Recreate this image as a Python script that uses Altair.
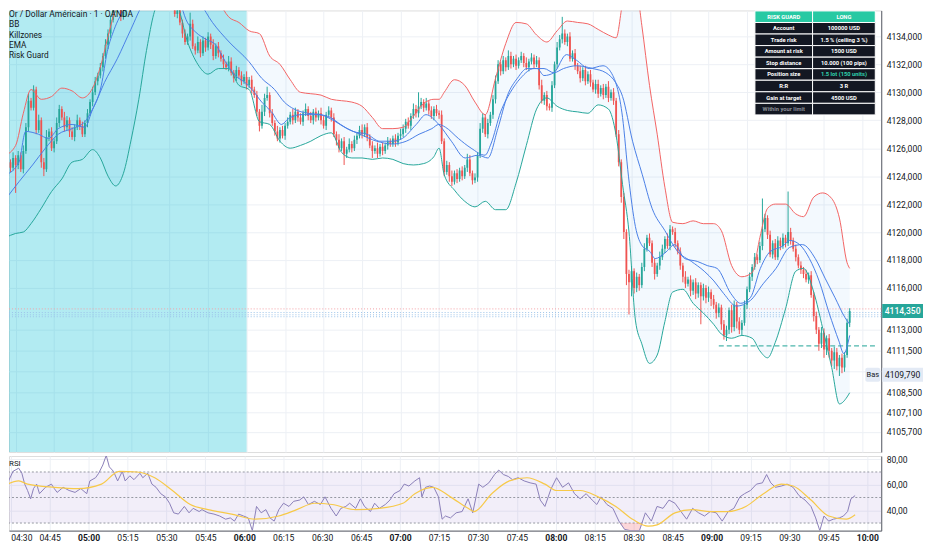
import altair as alt
import pandas as pd

# ---------------- data ----------------
START_MIN = 267            # first candle = 04:27 (minutes after midnight)
FIRST_OPEN = 4125.3

closes = [
    4125.0, 4124.6, 4125.3, 4124.8, 4125.5, 4124.5, 4125.8, 4127.5, 4129.4, 4128.9,
    4130.2, 4127.3, 4128.0, 4125.0, 4124.5, 4126.8, 4127.2, 4126.0, 4126.5, 4127.8,
    4128.8, 4128.2, 4127.5, 4128.0, 4127.2, 4126.8, 4127.5, 4128.0, 4127.6, 4127.0,
    4127.8, 4128.5, 4129.3, 4130.0, 4130.8, 4131.2, 4131.8, 4132.6, 4133.4, 4134.2,
    4135.2, 4136.0, 4136.8, 4137.2, 4135.4, 4135.8, 4136.8, 4137.8, 4138.5, 4139.2,
    4139.8, 4140.3, 4140.0, 4140.6, 4140.2, 4139.8, 4140.4, 4139.9, 4139.5, 4139.0,
    4138.6, 4138.2, 4137.7, 4137.2, 4136.6, 4135.6, 4135.9, 4135.0, 4134.2, 4133.6,
    4134.0, 4134.9, 4133.3, 4133.0, 4133.6, 4132.8, 4133.7, 4133.2, 4134.0, 4133.4,
    4132.6, 4133.3, 4132.8, 4132.4, 4132.0, 4131.8, 4132.2, 4131.4, 4131.0, 4131.6,
    4131.2, 4130.8, 4131.1, 4130.5, 4130.9, 4130.2, 4129.8, 4128.6, 4127.6, 4128.6,
    4129.6, 4129.8, 4128.5, 4127.8, 4127.2, 4126.7, 4127.3, 4126.9, 4127.6, 4127.9,
    4128.4, 4128.0, 4128.6, 4128.2, 4127.9, 4128.5, 4128.8, 4128.3, 4128.0, 4128.6,
    4128.2, 4128.5, 4128.0, 4127.6, 4128.4, 4128.7, 4128.2, 4127.0, 4126.6, 4126.0,
    4126.5, 4125.6, 4125.9, 4126.3, 4126.0, 4126.6, 4126.9, 4127.3, 4127.0, 4127.5,
    4126.8, 4126.2, 4125.8, 4126.0, 4125.6, 4126.1, 4125.8, 4126.2, 4126.5, 4126.3,
    4126.7, 4126.4, 4126.9, 4127.0, 4127.4, 4127.9, 4127.6, 4128.3, 4128.8, 4128.5,
    4129.0, 4129.3, 4128.9, 4129.2, 4128.7, 4128.3, 4128.8, 4128.5, 4128.4, 4126.5,
    4124.3, 4124.8, 4124.0, 4123.6, 4124.2, 4123.8, 4124.4, 4124.0, 4124.6, 4125.2,
    4124.2, 4123.7, 4123.9, 4125.5, 4127.4, 4128.2, 4127.0, 4127.8, 4128.4, 4129.5,
    4130.8, 4132.0, 4131.5, 4132.3, 4131.8, 4132.6, 4132.0, 4132.4, 4131.9, 4132.3,
    4132.6, 4132.1, 4131.8, 4132.2, 4132.5, 4132.0, 4132.3, 4130.5, 4129.4, 4129.8,
    4129.0, 4128.9, 4130.5, 4132.0, 4133.2, 4133.8, 4134.2, 4133.6, 4134.0, 4132.4,
    4132.8, 4131.9, 4131.5, 4131.0, 4131.6, 4130.8, 4131.3, 4130.7, 4130.2, 4130.6,
    4129.9, 4130.3, 4129.8, 4130.4, 4129.6, 4130.0, 4129.4, 4127.0, 4125.0, 4122.5,
    4120.0, 4117.0, 4116.4, 4117.2, 4116.0, 4116.8, 4116.2, 4117.5, 4118.8, 4119.6,
    4119.2, 4117.8, 4117.0, 4117.6, 4118.2, 4118.8, 4119.5, 4119.0, 4120.2, 4120.0,
    4119.2, 4118.6, 4117.6, 4116.8, 4116.3, 4116.6, 4115.8, 4116.4, 4115.6, 4116.2,
    4115.4, 4116.0, 4115.3, 4115.7, 4115.2, 4114.8, 4114.2, 4114.6, 4113.4, 4112.6,
    4113.0, 4114.4, 4113.2, 4114.8, 4113.6, 4113.0, 4113.5, 4114.8, 4115.9, 4116.8,
    4117.5, 4118.2, 4118.0, 4119.0, 4120.2, 4121.0, 4119.8, 4118.4, 4119.2, 4118.2,
    4119.4, 4119.0, 4119.6, 4119.2, 4120.0, 4119.4, 4118.8, 4118.2, 4117.6, 4117.3,
    4117.0, 4116.6, 4116.9, 4115.5, 4114.0, 4113.0, 4112.0, 4112.8, 4111.6, 4112.4,
    4111.5, 4110.8, 4111.4, 4110.4, 4111.0, 4110.3, 4111.2, 4113.5, 4114.35,
]

# upper / lower wick lengths, in tenths of a dollar
wick_up = [
    3, 2, 4, 2, 3, 2, 4, 3, 5, 2, 3, 2, 4, 2, 3, 5, 2, 3, 2, 4,
    3, 2, 4, 3, 2, 3, 2, 4, 2, 3, 2, 3, 2, 4, 3, 2, 3, 2, 4, 3,
    3, 2, 4, 3, 5, 2, 3, 2, 4, 3, 2, 3, 2, 4, 3, 2, 3, 2, 4, 2,
    3, 2, 3, 2, 3, 4, 2, 3, 2, 3, 2, 8, 3, 2, 4, 2, 3, 2, 3, 2,
    4, 2, 3, 2, 3, 2, 4, 3, 2, 3, 2, 3, 2, 4, 2, 3, 2, 3, 2, 5,
    3, 6, 2, 3, 2, 4, 2, 3, 2, 3, 2, 4, 3, 2, 3, 2, 4, 2, 3, 2,
    3, 2, 4, 3, 2, 3, 2, 3, 2, 4, 2, 3, 2, 4, 2, 3, 2, 3, 4, 2,
    3, 2, 3, 2, 4, 2, 3, 2, 3, 2, 2, 3, 2, 4, 3, 2, 3, 2, 4, 3,
    10, 3, 2, 4, 2, 3, 2, 3, 2, 3, 2, 3, 2, 4, 2, 3, 2, 3, 2, 4,
    3, 2, 3, 2, 4, 3, 2, 3, 2, 3, 4, 3, 2, 3, 2, 4, 3, 2, 3, 2,
    3, 2, 4, 2, 3, 2, 3, 2, 4, 2, 3, 2, 3, 2, 4, 3, 12, 3, 2, 3,
    2, 3, 2, 4, 2, 3, 2, 3, 2, 3, 3, 2, 3, 2, 4, 2, 3, 2, 3, 2,
    3, 2, 3, 4, 2, 3, 2, 3, 4, 2, 3, 2, 3, 2, 4, 3, 2, 4, 3, 2,
    3, 2, 3, 2, 4, 2, 3, 2, 3, 2, 2, 3, 2, 4, 2, 3, 2, 3, 2, 3,
    3, 2, 4, 3, 2, 3, 2, 3, 2, 3, 2, 3, 2, 3, 22, 3, 2, 3, 2, 3,
    3, 2, 3, 2, 29, 3, 2, 3, 2, 3, 2, 3, 2, 3, 2, 3, 2, 4, 3, 2,
    3, 2, 4, 3, 2, 3, 2, 3, 2,
]
wick_dn = [
    2, 3, 2, 20, 3, 2, 3, 2, 3, 2, 2, 3, 2, 4, 5, 2, 3, 2, 3, 2,
    3, 2, 3, 2, 4, 2, 3, 2, 3, 2, 2, 3, 2, 3, 2, 3, 2, 3, 2, 3,
    3, 2, 3, 2, 3, 2, 4, 2, 3, 2, 2, 3, 2, 3, 2, 3, 2, 3, 2, 3,
    3, 2, 3, 2, 3, 2, 3, 2, 3, 2, 2, 3, 2, 3, 2, 3, 2, 3, 2, 3,
    3, 2, 3, 2, 3, 2, 3, 2, 3, 2, 2, 3, 2, 3, 2, 3, 2, 3, 4, 2,
    3, 2, 3, 2, 3, 2, 3, 2, 3, 2, 2, 3, 2, 3, 2, 3, 2, 3, 2, 3,
    3, 2, 3, 2, 3, 2, 3, 2, 4, 3, 2, 8, 3, 2, 3, 2, 3, 2, 3, 2,
    3, 2, 5, 2, 3, 2, 3, 2, 3, 2, 2, 3, 2, 3, 2, 3, 2, 3, 2, 3,
    3, 2, 3, 2, 3, 2, 3, 2, 3, 2, 3, 2, 4, 3, 2, 3, 2, 3, 2, 3,
    2, 3, 2, 3, 2, 3, 2, 3, 2, 3, 3, 2, 3, 2, 3, 2, 3, 2, 3, 2,
    2, 3, 2, 3, 2, 3, 2, 3, 2, 3, 3, 2, 3, 2, 3, 2, 3, 2, 3, 2,
    2, 3, 2, 3, 2, 3, 2, 3, 2, 3, 3, 2, 3, 2, 3, 2, 3, 2, 3, 4,
    5, 8, 23, 10, 4, 3, 4, 2, 3, 2, 2, 3, 4, 2, 3, 2, 3, 2, 3, 2,
    3, 2, 3, 4, 3, 2, 4, 3, 4, 3, 20, 3, 4, 3, 5, 3, 4, 3, 4, 3,
    4, 3, 4, 3, 5, 3, 4, 2, 3, 2, 3, 2, 3, 2, 3, 2, 3, 2, 3, 2,
    2, 3, 2, 3, 2, 3, 2, 3, 2, 3, 3, 2, 3, 2, 4, 3, 5, 3, 6, 4,
    5, 4, 6, 3, 7, 4, 3, 2, 3,
]

# Bollinger bands (minutes after midnight, upper, lower)
band_t = [266, 270, 273, 276, 280, 284, 288, 292, 296, 300, 303, 306, 309, 312, 315, 318, 321, 325, 329, 333,
          337, 341, 345, 349, 353, 357, 361, 365, 369, 373, 377, 381, 385, 389, 393, 397, 401, 405, 409, 413,
          417, 421, 425, 429, 433, 435, 437, 441, 445, 449, 453, 457, 461, 465, 469, 473, 477, 481, 485, 489,
          493, 497, 501, 504, 506.5, 509, 511.5, 514, 517, 520, 523, 526, 530, 534, 538, 542, 545, 549, 553, 557,
          560, 563, 566, 570, 574, 577, 581, 584.5, 588, 591, 594, 595]
band_up = [4125.5, 4126.2, 4128.5, 4130.2, 4129.5, 4129.7, 4130.3, 4130.1, 4129.6, 4130.3,
           4131.8, 4134.0, 4136.2, 4139.0, 4141.3, 4142.6, 4143.2, 4143.7, 4144.0, 4144.2,
           4143.5, 4140.5, 4138.3, 4136.6, 4135.4, 4135.0, 4134.4, 4134.2, 4132.6, 4132.0,
           4130.9, 4130.0, 4129.9, 4129.8, 4129.5, 4129.4, 4129.3, 4129.0, 4128.2, 4127.4,
           4127.4, 4127.5, 4128.3, 4129.2, 4129.5, 4129.5, 4130.0, 4130.9, 4130.5, 4129.3,
           4128.4, 4131.0, 4133.5, 4135.0, 4134.9, 4134.1, 4133.6, 4134.4, 4135.1, 4135.0,
           4134.9, 4134.5, 4134.1, 4133.9, 4136.4, 4138.3, 4137.9, 4134.8, 4130.5, 4127.0,
           4123.2, 4120.7, 4120.6, 4120.8, 4120.6, 4120.6, 4120.1, 4117.6, 4116.8, 4117.1,
           4119.6, 4121.7, 4122.0, 4122.0, 4121.3, 4121.1, 4122.5, 4122.8, 4122.4, 4121.0,
           4117.8, 4117.4]
band_lo = [4119.6, 4119.9, 4120.0, 4120.6, 4121.7, 4122.9, 4123.8, 4125.0, 4125.2, 4125.9,
           4125.3, 4124.0, 4123.3, 4124.2, 4126.6, 4129.5, 4133.0, 4136.2, 4136.8, 4136.2,
           4133.6, 4132.0, 4131.3, 4131.7, 4131.7, 4130.5, 4130.2, 4127.9, 4127.7, 4126.5,
           4126.0, 4126.2, 4126.5, 4126.9, 4127.1, 4125.7, 4125.3, 4125.3, 4125.2, 4125.3,
           4125.2, 4124.9, 4124.8, 4124.9, 4125.4, 4126.0, 4124.1, 4123.0, 4122.2, 4121.8,
           4122.2, 4121.6, 4121.6, 4123.5, 4126.2, 4128.8, 4129.6, 4129.0, 4128.7, 4128.6,
           4128.5, 4129.1, 4128.8, 4126.9, 4123.4, 4120.0, 4113.7, 4112.0, 4110.6, 4111.2,
           4113.6, 4115.7, 4115.9, 4114.9, 4114.2, 4113.4, 4112.7, 4112.4, 4112.6, 4112.4,
           4111.5, 4111.0, 4112.1, 4114.5, 4117.2, 4117.4, 4115.7, 4113.1, 4110.3, 4107.7,
           4108.2, 4108.5]

# EMAs
ema_f_t = [266.3, 271.3, 273.9, 278.9, 282.8, 286.6, 292.0, 297.0, 299.6, 303.4,
           305.7, 308.4, 312.3, 314.9, 319.9, 325.7, 329.5, 332.2, 334.1, 336.4,
           340.2, 344.1, 347.9, 351.7, 355.6, 359.4, 362.1, 365.9, 369.7, 373.6,
           376.2, 381.2, 387.7, 392.7, 396.6, 401.5, 406.9, 411.9, 416.9, 420.7,
           426.1, 429.9, 434.9, 439.8, 445.2, 450.2, 454.0, 457.9, 461.7, 465.5,
           469.3, 473.2, 475.9, 479.7, 484.7, 488.5, 493.5, 498.9, 502.7, 506.5,
           508.8, 511.5, 514.2, 517.2, 519.2, 523.0, 526.8, 530.7, 535.6, 539.5,
           543.3, 548.7, 552.5, 556.3, 560.2, 564.0, 569.0, 571.6, 575.5, 579.3,
           583.1, 587.0, 590.8, 592.7, 595.0]
ema_f_v = [4124.1, 4125.0, 4127.2, 4127.0, 4126.7, 4127.4, 4127.7, 4127.5, 4128.6, 4130.5,
           4132.9, 4134.5, 4135.9, 4136.4, 4137.5, 4138.3, 4138.0, 4137.0, 4136.4, 4135.2,
           4134.3, 4133.8, 4133.4, 4132.2, 4131.2, 4130.7, 4130.2, 4129.3, 4128.6, 4127.7,
           4128.1, 4128.4, 4128.4, 4128.2, 4127.7, 4127.2, 4127.0, 4126.5, 4126.5, 4126.7,
           4127.7, 4128.4, 4127.7, 4126.5, 4125.3, 4125.5, 4125.3, 4127.4, 4129.8, 4131.0,
           4131.7, 4131.7, 4131.2, 4131.4, 4132.7, 4132.3, 4131.7, 4131.9, 4131.2, 4128.2,
           4124.0, 4120.4, 4119.0, 4118.6, 4118.1, 4118.5, 4119.1, 4118.1, 4117.9, 4117.6,
           4117.4, 4115.6, 4114.9, 4115.3, 4117.4, 4118.6, 4119.0, 4119.4, 4119.1, 4118.1,
           4116.5, 4114.2, 4112.2, 4111.3, 4112.6]
ema_s_t = [266.3, 271.3, 276.6, 281.6, 286.6, 292.0, 297.0, 300.8, 304.6, 309.6,
           314.9, 319.9, 327.6, 335.2, 341.7, 346.7, 353.2, 360.9, 365.9, 370.9,
           374.7, 378.5, 383.9, 388.9, 392.7, 399.2, 404.2, 410.7, 416.9, 422.2,
           427.2, 432.2, 434.9, 437.5, 442.5, 447.5, 452.9, 455.2, 459.0, 462.8,
           466.7, 472.0, 475.9, 479.7, 483.5, 488.5, 494.9, 500.0, 503.8, 506.5,
           510.4, 514.2, 518.0, 523.0, 528.0, 533.3, 538.3, 542.1, 545.9, 550.9,
           556.3, 561.3, 566.3, 571.6, 576.6, 581.6, 585.4, 589.3, 593.1, 595.0]
ema_s_v = [4122.4, 4123.6, 4124.8, 4126.0, 4127.0, 4127.4, 4127.9, 4129.1, 4130.7, 4132.4,
           4134.5, 4136.4, 4137.4, 4137.3, 4136.4, 4135.0, 4133.6, 4132.2, 4131.0, 4130.2,
           4129.3, 4128.8, 4128.5, 4128.4, 4128.1, 4127.4, 4127.0, 4126.5, 4126.3, 4126.5,
           4127.0, 4127.4, 4127.7, 4127.5, 4126.7, 4126.0, 4125.5, 4126.3, 4128.6, 4130.0,
           4131.0, 4131.7, 4131.7, 4131.4, 4131.7, 4131.9, 4131.7, 4131.4, 4130.7, 4129.7,
           4126.5, 4124.1, 4121.7, 4120.1, 4118.6, 4117.9, 4117.2, 4116.5, 4115.6, 4114.7,
           4115.1, 4116.3, 4117.4, 4118.9, 4119.1, 4118.1, 4116.7, 4115.3, 4113.9, 4113.4]

# RSI and its moving average
rsi_t = [266.3, 268.6, 270.9, 273.1, 274.3, 275.4, 276.5, 277.7, 278.8, 280.0,
         281.1, 283.4, 285.7, 286.8, 287.9, 290.2, 292.5, 294.8, 297.0, 299.3,
         300.5, 302.7, 303.9, 305.5, 306.8, 308.0, 309.6, 311.2, 313.0, 314.1,
         315.9, 317.5, 319.8, 320.9, 322.8, 324.4, 326.0, 327.8, 329.6, 331.2,
         332.8, 334.6, 336.9, 338.7, 340.3, 342.6, 343.7, 346.0, 348.3, 350.5,
         352.8, 354.6, 356.2, 357.8, 359.7, 361.5, 363.1, 364.7, 366.5, 368.3,
         369.9, 371.5, 373.3, 375.1, 377.2, 379.0, 381.3, 382.9, 384.7, 387.0,
         389.3, 391.1, 393.4, 395.4, 397.2, 399.1, 400.6, 402.9, 404.7, 406.3,
         408.6, 410.2, 412.0, 414.3, 416.1, 417.7, 420.0, 421.6, 423.4, 425.7,
         427.5, 428.4, 429.8, 431.4, 433.0, 434.8, 436.2, 437.5, 439.4, 441.6,
         443.9, 446.2, 448.0, 450.3, 451.9, 454.2, 456.4, 458.0, 459.8, 461.7,
         463.3, 465.5, 467.8, 470.1, 472.4, 474.0, 475.8, 478.1, 480.3, 482.6,
         484.9, 487.2, 489.4, 491.7, 494.0, 495.8, 497.4, 499.7, 502.0, 504.3,
         506.5, 508.8, 512.2, 514.5, 516.8, 519.0, 521.3, 523.6, 525.9, 528.2,
         530.4, 532.7, 535.0, 537.3, 539.5, 541.8, 544.1, 546.4, 548.6, 550.9,
         552.7, 555.0, 557.3, 559.6, 561.2, 562.8, 564.6, 566.9, 569.1, 571.4,
         573.7, 576.0, 578.3, 580.1, 581.7, 583.3, 585.1, 586.9, 589.2, 590.8,
         592.4, 593.7, 595.3]
rsi_v = [63, 60.5, 70.5, 73, 69, 60.5, 55.5, 49, 57, 60.5,
         53, 58, 60.5, 57, 54, 58, 55.5, 54, 57, 53,
         63, 65.5, 69, 75.5, 83, 74, 70.5, 63, 70.5, 63,
         67, 64, 69, 65.5, 69, 60.5, 58, 53, 50.5, 45.5,
         38, 37, 43, 38, 41.5, 39, 40.5, 38, 37, 35.5,
         33, 34, 31.5, 37, 35.5, 34, 24, 43, 38, 40.5,
         34, 31.5, 40.5, 45.5, 43, 47, 48, 50.5, 44.5, 47,
         44.5, 50.5, 41.5, 35.5, 41.5, 43, 45.5, 41.5, 49, 43,
         39, 45.5, 41.5, 44.5, 48, 53, 55.5, 60.5, 59, 63,
         65.5, 50.5, 58, 59, 58, 50.5, 33, 35.5, 34, 38,
         39, 49, 38, 60.5, 58, 61.5, 68, 71.5, 68, 66.5,
         64, 65.5, 63, 61.5, 60.5, 48, 43, 56.5, 65.5, 58,
         61.5, 53, 49, 53, 48, 44.5, 50.5, 44.5, 41.5, 31.5,
         25, 24, 24, 38, 31.5, 43, 41.5, 48, 45.5, 39,
         33, 41.5, 38, 35.5, 39, 38, 31.5, 39, 41.5, 50.5,
         53, 55.5, 60.5, 61.5, 68, 61.5, 58, 59, 60.5, 58,
         51.5, 48, 43, 34, 24, 35.5, 31.5, 33, 34, 35.5,
         39, 49, 51.5]
sig_t = [266.3, 273.1, 276.5, 286.8, 295.9, 305.0, 311.8, 318.7, 325.5, 332.3,
         339.2, 346.0, 355.1, 364.2, 373.3, 380.2, 387.0, 393.8, 402.9, 412.0,
         421.1, 425.7, 432.5, 439.4, 446.2, 448.5, 455.3, 462.1, 468.9, 475.8,
         480.3, 489.4, 496.3, 503.1, 509.9, 515.6, 519.0, 525.9, 532.7, 539.5,
         546.4, 553.2, 560.0, 566.9, 571.4, 578.3, 585.1, 591.9, 595.3]
sig_v = [58, 63, 60.5, 58, 57, 60.5, 70.5, 70, 65.5, 55.5,
         44.5, 40.5, 37, 33, 35.5, 40.5, 45.5, 44.5, 40.5, 41.5,
         45.5, 53, 58, 50.5, 41.5, 39, 53, 63, 65.5, 60.5,
         55.5, 55.5, 50.5, 43, 32.5, 27.5, 28.5, 38, 40.5, 39,
         39, 43, 53, 60.5, 59, 48, 35.5, 33, 36.5]
oversold_t = [504.5, 506.5, 508.8, 512.2, 513.4]
oversold_v = [30, 25, 24, 24, 30]

killzone_start, killzone_end = 266, 360      # killzone up to 06:00
stop_line_start, stop_line_end, stop_line_price = 544, 606, 4111.85
last_price = 4114.35
low_price = 4109.79
dotted_red = [4114.5]
dotted_blue = [4114.24, 4114.08, 4113.94]

legend_lines = ["BB", "Killzones", "EMA", "Risk Guard"]
title_text = "Or / Dollar Américain · 1 · OANDA"

tbl_header = ["RISK GUARD", "LONG"]
tbl_labels = ["Account", "Trade risk", "Amount at risk", "Stop distance", "Position size",
              "R:R", "Gain at target", "Within your limit"]
tbl_values = ["100000 USD", "1.5 %  (ceiling 3 %)", "1500 USD", "10.000  (100 pips)",
              "1.5 lot  (150 units)", "3 R", "4500 USD", ""]

time_ticks = list(range(270, 601, 15))
price_ticks = [4136, 4134, 4132, 4130, 4128, 4126, 4124, 4122, 4120, 4118, 4116,
               4113, 4111.5, 4108.5, 4107.1, 4105.7]
hidden_grid = [4110]          # grid level whose label is hidden by the "Bas" tag
rsi_ticks = [40, 60, 80]

# ---------------- frames ----------------
rows = []
prev = FIRST_OPEN
for i, c in enumerate(closes):
    o = prev
    rows.append(dict(m=START_MIN + i, o=o, c=c,
                     h=max(o, c) + wick_up[i] / 10.0,
                     l=min(o, c) - wick_dn[i] / 10.0))
    prev = c
candles = pd.DataFrame(rows)
bb = pd.DataFrame({"t": band_t, "u": band_up, "lo": band_lo})
ema_f = pd.DataFrame({"t": ema_f_t, "v": ema_f_v})
ema_s = pd.DataFrame({"t": ema_s_t, "v": ema_s_v})
rsi = pd.DataFrame({"t": rsi_t, "v": rsi_v})
sig = pd.DataFrame({"t": sig_t, "v": sig_v})
os_df = pd.DataFrame({"t": oversold_t, "v": oversold_v, "lvl": [30] * len(oversold_t)})

# ---------------- style ----------------
GREEN = "#26a69a"
RED = "#ef5350"
GRID = "#edf0f5"
TXT = "#131722"
AX = "#5d606b"
BLUE = "#4a7fe6"
PW, PH, RH = 877, 444, 75
LBL = 8.6

xs = alt.Scale(domain=[269.35, 605.36], nice=False, zero=False)
ys = alt.Scale(domain=[4104.256, 4135.858], nice=False, zero=False)
rs = alt.Scale(domain=[24.05, 82.52], nice=False, zero=False)

x_grid_axis = alt.Axis(values=time_ticks, labels=False, ticks=False, domain=False,
                       grid=True, gridColor=GRID, title=None)
price_axis = alt.Axis(orient="right", values=price_ticks,
                      labelExpr="replace(format(datum.value, '.3f'), '.', ',')",
                      ticks=False, domain=True, domainColor=AX, grid=True, gridColor=GRID,
                      labelColor=TXT, labelFontSize=LBL, labelPadding=5, labelOverlap=False,
                      title=None)
time_axis = alt.Axis(values=time_ticks,
                     labelExpr="timeFormat(datetime(2000, 0, 1, floor(datum.value / 60), datum.value % 60), '%H:%M')",
                     labelFontWeight={"condition": {"test": "datum.value % 60 === 0", "value": "bold"},
                                      "value": "normal"},
                     ticks=False, domain=True, domainColor=AX, grid=True, gridColor=GRID,
                     labelColor=TXT, labelFontSize=LBL, labelPadding=3, labelFlush=3,
                     labelOverlap=False, title=None)
rsi_axis = alt.Axis(orient="right", values=rsi_ticks,
                    labelExpr="replace(format(datum.value, '.2f'), '.', ',')",
                    ticks=False, domain=True, domainColor=AX, grid=True, gridColor=GRID,
                    labelColor=TXT, labelFontSize=LBL, labelPadding=5, title=None)


def PX(f):
    return alt.X(f"{f}:Q", scale=xs, axis=x_grid_axis)


def PY(f):
    return alt.Y(f"{f}:Q", scale=ys, axis=price_axis)


def ann(txt, x, y, size, color=TXT, weight="normal", align="left", baseline="middle"):
    return alt.Chart(pd.DataFrame({"t": [txt]})).mark_text(
        align=align, baseline=baseline, fontSize=size, color=color, fontWeight=weight
    ).encode(x=alt.value(x), y=alt.value(y), text="t:N")


candle_color = alt.condition("datum.c >= datum.o", alt.value(GREEN), alt.value(RED))

extra_grid = alt.Chart(pd.DataFrame({"p": hidden_grid})).mark_rule(
    color=GRID, strokeWidth=1).encode(y=PY("p"))
killzone = alt.Chart(pd.DataFrame({"s": [killzone_start], "e": [killzone_end]})).mark_rect(
    color="#00bcd4", opacity=0.3, clip=True).encode(x=PX("s"), x2="e")
bb_fill = alt.Chart(bb).mark_area(color="#2196f3", opacity=0.055, interpolate="monotone",
                                  clip=True).encode(x=PX("t"), y=PY("u"), y2="lo")
dot_red = alt.Chart(pd.DataFrame({"p": dotted_red})).mark_rule(
    color="#f4a0a6", strokeDash=[1, 2], strokeWidth=1).encode(y=PY("p"))
dot_blue = alt.Chart(pd.DataFrame({"p": dotted_blue})).mark_rule(
    color="#9cc4ea", strokeDash=[1, 2], strokeWidth=1).encode(y=PY("p"))
stop_line = alt.Chart(pd.DataFrame({"a": [stop_line_start], "b": [stop_line_end],
                                    "p": [stop_line_price]})).mark_rule(
    color="#4db6ac", strokeDash=[5, 3], strokeWidth=1.3, clip=True).encode(
    x=PX("a"), x2="b", y=PY("p"))
wicks = alt.Chart(candles).mark_rule(strokeWidth=1, clip=True).encode(
    x=PX("m"), y=PY("l"), y2="h", color=candle_color)
bodies = alt.Chart(candles).mark_bar(size=1.8, clip=True).encode(
    x=PX("m"), y=PY("o"), y2="c", color=candle_color)
bb_up_line = alt.Chart(bb).mark_line(color="#f26464", strokeWidth=1, interpolate="monotone",
                                     clip=True).encode(x=PX("t"), y=PY("u"))
bb_lo_line = alt.Chart(bb).mark_line(color="#26a69a", strokeWidth=1, interpolate="monotone",
                                     clip=True).encode(x=PX("t"), y=PY("lo"))
ema_fast = alt.Chart(ema_f).mark_line(color=BLUE, strokeWidth=1, interpolate="monotone",
                                      clip=True).encode(x=PX("t"), y=PY("v"))
ema_slow = alt.Chart(ema_s).mark_line(color=BLUE, strokeWidth=1, interpolate="monotone",
                                      clip=True).encode(x=PX("t"), y=PY("v"))

last_box = alt.Chart(pd.DataFrame({"p": [last_price]})).transform_calculate(
    a="datum.p + 0.5", b="datum.p - 0.5").mark_rect(color=GREEN).encode(
    x=alt.value(878), x2=alt.value(919), y=PY("a"), y2="b")
last_txt = alt.Chart(pd.DataFrame({"p": [last_price]})).transform_calculate(
    s="replace(format(datum.p, '.3f'), '.', ',')").mark_text(
    color="white", fontSize=LBL, fontWeight=500).encode(
    x=alt.value(898.5), y=PY("p"), text="s:N")
low_box = alt.Chart(pd.DataFrame({"p": [low_price]})).transform_calculate(
    a="datum.p + 0.5", b="datum.p - 0.5").mark_rect(color="#e3eaf5").encode(
    x=alt.value(878), x2=alt.value(919), y=PY("a"), y2="b")
bas_box = alt.Chart(pd.DataFrame({"p": [low_price]})).transform_calculate(
    a="datum.p + 0.5", b="datum.p - 0.5").mark_rect(color="#e3eaf5", cornerRadius=2).encode(
    x=alt.value(861), x2=alt.value(876), y=PY("a"), y2="b")
low_txt = alt.Chart(pd.DataFrame({"p": [low_price]})).transform_calculate(
    s="replace(format(datum.p, '.3f'), '.', ',')").mark_text(
    color=TXT, fontSize=LBL).encode(x=alt.value(898.5), y=PY("p"), text="s:N")
bas_txt = alt.Chart(pd.DataFrame({"p": [low_price], "s": ["Bas"]})).mark_text(
    color=TXT, fontSize=7.5).encode(x=alt.value(868.5), y=PY("p"), text="s:N")

legend = [ann(title_text, 0, 0, 8.5, baseline="top")]
for k, name in enumerate(legend_lines):
    legend.append(ann(name, 0, 15 + k * 10.3, 8.3))

price_layer = alt.layer(extra_grid, killzone, bb_fill, dot_red, dot_blue, stop_line, wicks, bodies,
                        bb_up_line, bb_lo_line, ema_fast, ema_slow,
                        last_box, last_txt, bas_box, low_box, low_txt, bas_txt, *legend)

# ---- Risk Guard table ----
edges = [0.0, 0.479, 1.0]
names = [tbl_header[0]] + tbl_labels
vals = [tbl_header[1]] + tbl_values
cells = []
for r in range(len(names)):
    for c in range(2):
        txt = names[r] if c == 0 else vals[r]
        if r == 0:
            kind = "head"
        elif c == 1 and names[r] == "Position size":
            kind = "accent"
        elif c == 0 and names[r] == "Within your limit":
            kind = "muted"
        else:
            kind = "body"
        cells.append(dict(x0=edges[c], x1=edges[c + 1], y0=r, y1=r + 1,
                          xm=(edges[c] + edges[c + 1]) / 2, ym=r + 0.5,
                          txt=txt, kind=kind, head=(r == 0)))
cells = pd.DataFrame(cells)
tx = alt.Scale(domain=[0, 1], range=[750, 871])
ty = alt.Scale(domain=[0, len(names)], range=[0.5, 105])
tbl_rect = alt.Chart(cells).mark_rect(stroke="white", strokeWidth=1).encode(
    x=alt.X("x0:Q", scale=tx, axis=None), x2="x1",
    y=alt.Y("y0:Q", scale=ty, axis=None), y2="y1",
    color=alt.condition("datum.head", alt.value("#27c9a3"), alt.value("#131722")))
tbl_text = alt.Chart(cells).mark_text(fontSize=5.8, fontWeight="bold").encode(
    x=alt.X("xm:Q", scale=tx, axis=None), y=alt.Y("ym:Q", scale=ty, axis=None),
    text="txt:N",
    color=alt.Color("kind:N", scale=alt.Scale(domain=["head", "body", "accent", "muted"],
                                              range=["#ffffff", "#ffffff", "#2fd0ad", "#8a8d96"]),
                    legend=None))
table_layer = alt.layer(tbl_rect, tbl_text)

price_panel = alt.layer(price_layer, table_layer).resolve_scale(
    x="independent", y="independent", color="independent").properties(width=PW, height=PH)

# ---- RSI panel ----
RX = alt.X("t:Q", scale=xs, axis=time_axis)
rsi_band = alt.Chart(pd.DataFrame({"lo": [30], "hi": [70]})).mark_rect(
    color="#7e57c2", opacity=0.1).encode(y=alt.Y("lo:Q", scale=rs, axis=rsi_axis), y2="hi")
rsi_dash = alt.Chart(pd.DataFrame({"v": [70, 50, 30]})).mark_rule(
    color="#9598a1", strokeDash=[2, 2], strokeWidth=1).encode(
    y=alt.Y("v:Q", scale=rs, axis=rsi_axis))
rsi_os = alt.Chart(os_df).mark_area(color="#f23645", opacity=0.2, clip=True).encode(
    x=RX, y=alt.Y("v:Q", scale=rs, axis=rsi_axis), y2="lvl")
rsi_line = alt.Chart(rsi).mark_line(color="#8a7fb8", strokeWidth=1, clip=True).encode(
    x=RX, y=alt.Y("v:Q", scale=rs, axis=rsi_axis))
sig_line = alt.Chart(sig).mark_line(color="#f7c948", strokeWidth=1.2, interpolate="monotone",
                                    clip=True).encode(x=RX, y=alt.Y("v:Q", scale=rs, axis=rsi_axis))
rsi_lbl = ann("RSI", 0, 8, 8)
rsi_panel = alt.layer(rsi_band, rsi_dash, rsi_os, rsi_line, sig_line, rsi_lbl).properties(
    width=PW, height=RH)

chart = alt.vconcat(price_panel, rsi_panel, spacing=1).properties(
    padding=0, background="white"
).configure_view(stroke=None).configure(font="Roboto")

chart.save("out.html", embed_options={"renderer": "svg", "actions": False})
